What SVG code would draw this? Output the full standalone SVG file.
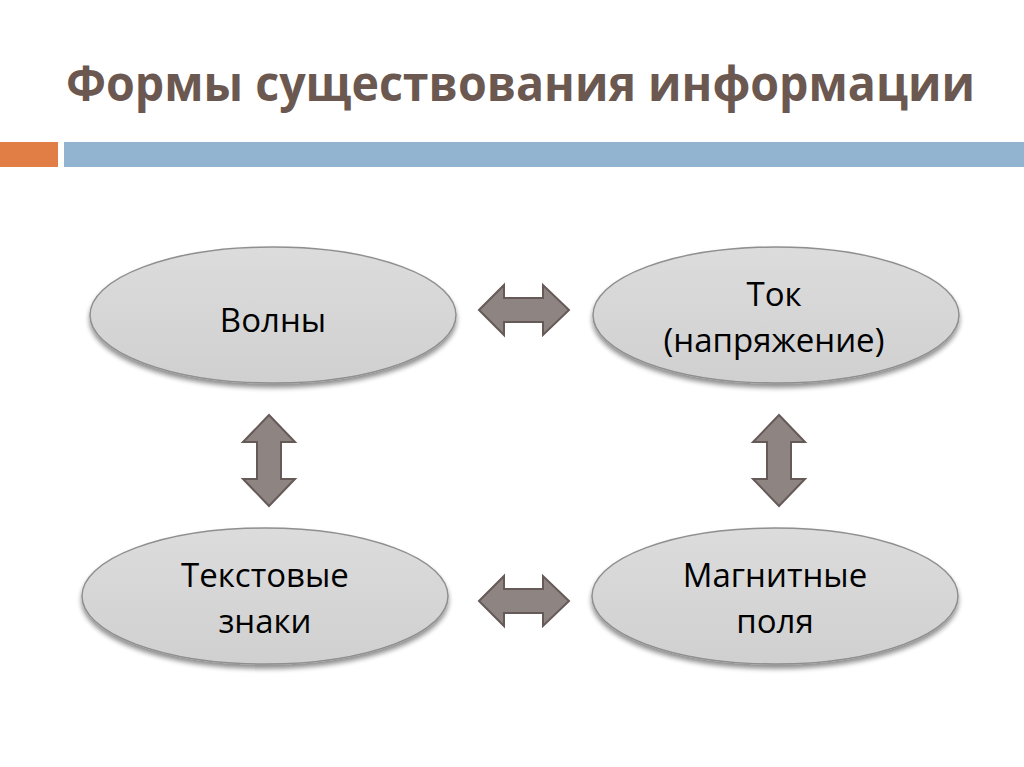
<svg xmlns="http://www.w3.org/2000/svg" width="1024" height="767" viewBox="0 0 1024 767">
<style>
.title{font-family:"Open Sans","Liberation Sans",sans-serif;font-weight:bold;font-size:48px;fill:#6B5850}
.lbl{font-family:"Open Sans","Liberation Sans",sans-serif;font-size:33px;fill:#000;text-anchor:middle}
.node{fill:url(#g);stroke:#8f8f8f;stroke-width:1.5;filter:url(#sh)}
.arr{fill:#8E8583;stroke:#655A58;stroke-width:2;stroke-linejoin:miter}
</style>
<defs>
<linearGradient id="g" x1="0" y1="0" x2="0" y2="1">
<stop offset="0" stop-color="#DCDCDC"/>
<stop offset="1" stop-color="#D0D0D0"/>
</linearGradient>
<filter id="sh" x="-10%" y="-10%" width="120%" height="130%">
<feGaussianBlur in="SourceAlpha" stdDeviation="2.5"/>
<feOffset dx="0" dy="4" result="b"/>
<feComponentTransfer><feFuncA type="linear" slope="0.45"/></feComponentTransfer>
<feMerge><feMergeNode/><feMergeNode in="SourceGraphic"/></feMerge>
</filter>
<path id="harr" d="M-45,0 L-20,-25 L-20,-12 L19,-12 L19,-25 L45,0 L19,25 L19,12 L-20,12 L-20,25 Z"/>
<path id="varr" d="M0,-45 L26,-18 L12,-18 L12,19 L26,19 L0,46 L-26,19 L-12,19 L-12,-18 L-26,-18 Z"/>
</defs>
<rect width="1024" height="767" fill="#fff"/>
<text class="title" x="66" y="101" textLength="909" lengthAdjust="spacingAndGlyphs">Формы существования информации</text>
<rect x="0" y="142" width="58" height="25" fill="#E07E45"/>
<rect x="64" y="142" width="960" height="25" fill="#93B4D1"/>
<g id="connectors">
<use href="#harr" class="arr" x="524" y="310"/>
<use href="#harr" class="arr" x="524" y="601"/>
<use href="#varr" class="arr" x="269" y="460"/>
<use href="#varr" class="arr" x="779" y="460"/>
</g>
<g id="n1">
<ellipse class="node" cx="273" cy="315" rx="183" ry="68"/>
<text class="lbl" x="273" y="332">Волны</text>
</g>
<g id="n2">
<ellipse class="node" cx="776" cy="315" rx="183" ry="68"/>
<text class="lbl" x="774" y="306">Ток</text>
<text class="lbl" x="774" y="352">(напряжение)</text>
</g>
<g id="n3">
<ellipse class="node" cx="265" cy="596" rx="183" ry="68"/>
<text class="lbl" x="265" y="587">Текстовые</text>
<text class="lbl" x="265" y="633">знаки</text>
</g>
<g id="n4">
<ellipse class="node" cx="775" cy="596" rx="183" ry="68"/>
<text class="lbl" x="775" y="587">Магнитные</text>
<text class="lbl" x="775" y="633">поля</text>
</g>
</svg>
